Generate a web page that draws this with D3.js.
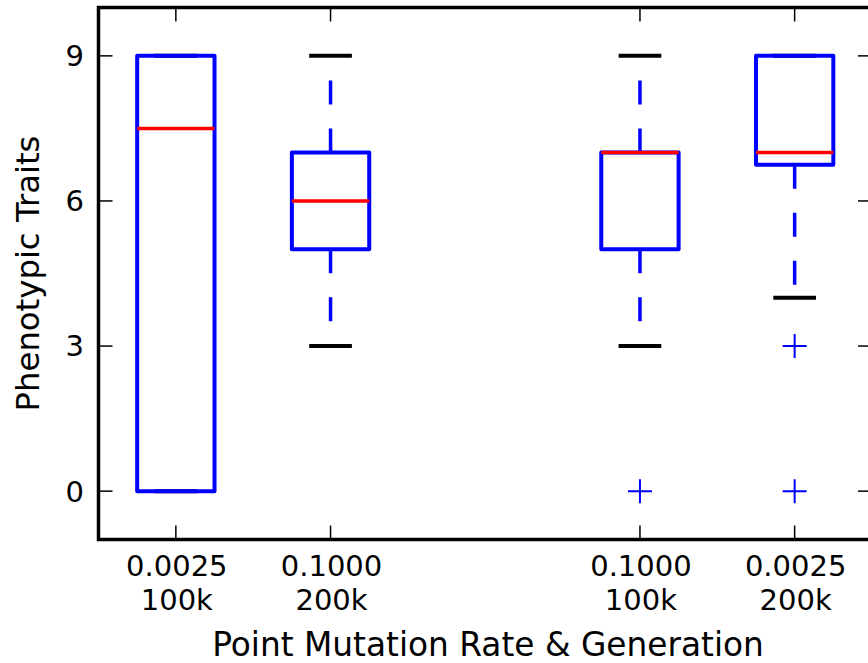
<!DOCTYPE html>
<html>
<head>
<meta charset="utf-8">
<script src="https://cdn.jsdelivr.net/npm/d3@7"></script>
<style>
  body { margin: 0; background: #fff; }
  text { font-family: "DejaVu Sans", sans-serif; fill: #000; }
</style>
</head>
<body>
<div id="chart"></div>
<script>
// categories (mutation rate / generation) and their slot on the x axis
const rates = ["0.0025", "0.1000", "0.1000", "0.0025"];
const generations = ["100k", "200k", "100k", "200k"];
const positions = [1, 2, 4, 5];

// box statistics
const whiskerLow = [0, 3, 3, 4];
const q1 = [0, 5, 5, 6.75];
const medians = [7.5, 6, 7, 7];
const q3 = [9, 7, 7, 9];
const whiskerHigh = [9, 9, 9, 9];
const fliers = [[], [], [0], [3, 0]];

const yTicks = [0, 3, 6, 9];

const width = 868, height = 663;

const svg = d3.select("#chart").append("svg")
    .attr("width", width)
    .attr("height", height);

//Scales
const x = d3.scaleLinear().domain([0.5, 5.5]).range([98.5, 872]);
const y = d3.scaleLinear().domain([-1, 10]).range([539.5, 7.5]);

const boxes = positions.map((p, i) => ({
    pos: p, lo: whiskerLow[i], q1: q1[i], med: medians[i], q3: q3[i], hi: whiskerHigh[i], fliers: fliers[i]
}));

const g = svg.append("g");

//Whiskers (dashed, drawn out from the box)
boxes.forEach(d => {
    [[d.q1, d.lo], [d.q3, d.hi]].forEach(([from, to]) => {
        if (from === to) return;
        g.append("line")
            .attr("x1", x(d.pos)).attr("x2", x(d.pos))
            .attr("y1", y(from)).attr("y2", y(to))
            .style("stroke", "#0000ff")
            .style("stroke-width", 3.5)
            .style("stroke-dasharray", "24,24");
    });
});

//Caps
boxes.forEach(d => {
    [d.lo, d.hi].forEach(v => {
        g.append("line")
            .attr("x1", x(d.pos - 0.138)).attr("x2", x(d.pos + 0.138))
            .attr("y1", y(v)).attr("y2", y(v))
            .style("stroke", "#000")
            .style("stroke-width", 4);
    });
});

//Boxes
g.selectAll(".box")
    .data(boxes)
    .join("rect")
    .attr("class", "box")
    .attr("x", d => x(d.pos - 0.25))
    .attr("width", d => x(d.pos + 0.25) - x(d.pos - 0.25))
    .attr("y", d => y(d.q3))
    .attr("height", d => y(d.q1) - y(d.q3))
    .style("fill", "none")
    .style("stroke", "#0000ff")
    .style("stroke-width", 4)
    .style("stroke-linejoin", "round");

//Medians
g.selectAll(".median")
    .data(boxes)
    .join("line")
    .attr("class", "median")
    .attr("x1", d => x(d.pos - 0.25))
    .attr("x2", d => x(d.pos + 0.25))
    .attr("y1", d => y(d.med))
    .attr("y2", d => y(d.med))
    .style("stroke", "#ff0000")
    .style("stroke-width", 3.5);

//Fliers as '+'
const flierData = boxes.flatMap(d => d.fliers.map(v => ({ pos: d.pos, v: v })));
g.selectAll(".flier")
    .data(flierData)
    .join("path")
    .attr("class", "flier")
    .attr("d", d => {
        const cx = x(d.pos), cy = y(d.v), s = 12;
        return `M${cx - s},${cy}H${cx + s}M${cx},${cy - s}V${cy + s}`;
    })
    .style("stroke", "#0000ff")
    .style("stroke-width", 2)
    .style("fill", "none");

//Ticks on all four sides, pointing inward
const tickLen = 14;
const ticks = svg.append("g").style("stroke", "#000").style("stroke-width", 1.5);
yTicks.forEach(v => {
    ticks.append("line").attr("x1", x.range()[0]).attr("x2", x.range()[0] + tickLen)
        .attr("y1", y(v)).attr("y2", y(v));
    ticks.append("line").attr("x1", x.range()[1]).attr("x2", x.range()[1] - tickLen)
        .attr("y1", y(v)).attr("y2", y(v));
});
positions.forEach(p => {
    ticks.append("line").attr("x1", x(p)).attr("x2", x(p))
        .attr("y1", y.range()[0]).attr("y2", y.range()[0] - tickLen);
    ticks.append("line").attr("x1", x(p)).attr("x2", x(p))
        .attr("y1", y.range()[1]).attr("y2", y.range()[1] + tickLen);
});

//Frame
svg.append("rect")
    .attr("x", x.range()[0])
    .attr("y", y.range()[1])
    .attr("width", x.range()[1] - x.range()[0])
    .attr("height", y.range()[0] - y.range()[1])
    .style("fill", "none")
    .style("stroke", "#000")
    .style("stroke-width", 3.5);

//Y tick labels
svg.selectAll(".ylab")
    .data(yTicks)
    .join("text")
    .attr("class", "ylab")
    .attr("x", 84)
    .attr("y", d => y(d))
    .attr("dy", "0.36em")
    .attr("text-anchor", "end")
    .style("font-size", "29px")
    .text(d => d);

//X tick labels (two lines)
positions.forEach((p, i) => {
    const t = svg.append("text")
        .attr("text-anchor", "middle")
        .style("font-size", "29px");
    t.append("tspan").attr("x", x(p) + 1).attr("y", 576).text(rates[i]);
    t.append("tspan").attr("x", x(p) + 1).attr("y", 610).text(generations[i]);
});

//Axis titles
svg.append("text")
    .attr("x", 488)
    .attr("y", 656)
    .attr("text-anchor", "middle")
    .style("font-size", "32.8px")
    .text("Point Mutation Rate & Generation");

svg.append("text")
    .attr("transform", `translate(39,${(y.range()[0] + y.range()[1]) / 2}) rotate(-90)`)
    .attr("text-anchor", "middle")
    .style("font-size", "32.3px")
    .text("Phenotypic Traits");
</script>
</body>
</html>
